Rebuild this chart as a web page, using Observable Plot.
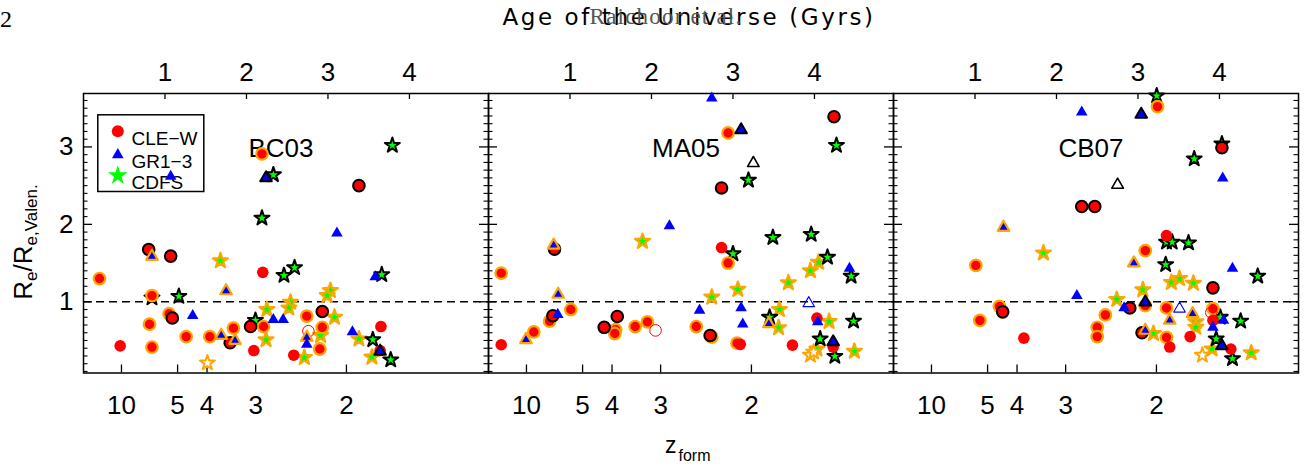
<!DOCTYPE html>
<html><head><meta charset="utf-8">
<script src="https://cdn.jsdelivr.net/npm/d3@7"></script>
<script src="https://cdn.jsdelivr.net/npm/@observablehq/plot@0.6"></script>
<style>
body{margin:0;background:#fff;}
#wrap{position:relative;width:1307px;height:466px;overflow:hidden;background:#fff;}
#wrap svg{position:absolute;left:0;top:0;}
</style></head><body><div id="wrap"></div>
<script>
// ---------- axis / category data ----------
const models = ["BC03", "MA05", "CB07"];
const samples = ["CLE-W", "GR1-3", "CDFS"];
const legendLabels = ["CLE−W", "GR1−3", "CDFS"];
const ageTicks = [1, 2, 3, 4];          // top axis: Age of the Universe (Gyrs)
const zTicks = [10, 5, 4, 3, 2];        // bottom axis: z_form
const yLabelTicks = [1, 2, 3];

// ---------- point data: [age of universe at formation (Gyr), Re/Re,Valen., style] ----------
// style: n = no edge, k = black edge, o = orange edge, xr/xb/xk/xo = open symbols
const bc03CleW = [[2.19,2.91,"o"],[3.38,2.50,"k"],[0.80,1.675,"k"],[1.07,1.59,"k"],[2.20,1.38,"n"],[0.196,1.30,"o"],
  [0.84,1.08,"o"],[2.93,0.875,"k"],[2.74,0.815,"o"],[1.09,0.79,"k"],[1.05,0.845,"o"],[0.81,0.71,"o"],[2.05,0.68,"k"],
  [2.21,0.68,"o"],[1.84,0.66,"o"],[2.76,0.62,"xr"],[2.93,0.67,"o"],[1.26,0.55,"o"],[1.55,0.55,"o"],[1.80,0.47,"k"],
  [0.45,0.43,"n"],[0.84,0.415,"o"],[2.09,0.37,"n"],[2.90,0.39,"o"],[2.58,0.31,"n"],[3.65,0.68,"n"],[3.64,0.37,"n"]];
const bc03Gr13 = [[1.07,2.62,"n"],[2.24,2.60,"k"],[3.11,1.885,"n"],[0.84,1.585,"o"],[3.58,1.32,"n"],[1.75,1.14,"o"],
  [1.34,0.82,"n"],[2.33,0.77,"n"],[2.45,0.77,"n"],[2.74,0.54,"o"],[2.74,0.45,"n"],[3.30,0.61,"n"],[1.69,0.565,"o"],
  [1.86,0.50,"o"],[3.64,0.36,"k"]];
const bc03Cdfs = [[2.33,2.64,"k"],[3.79,3.02,"k"],[2.19,2.08,"k"],[1.68,1.53,"o"],[2.46,1.34,"k"],[2.59,1.44,"k"],
  [3.66,1.35,"k"],[0.84,1.05,"k"],[1.17,1.07,"k"],[3.03,1.145,"o"],[2.99,1.08,"o"],[2.54,0.995,"o"],[2.52,0.92,"o"],
  [2.25,0.90,"o"],[3.08,0.80,"o"],[2.11,0.76,"k"],[2.91,0.565,"o"],[3.38,0.52,"o"],[3.55,0.51,"k"],[2.24,0.51,"o"],
  [2.71,0.28,"o"],[3.54,0.285,"o"],[3.77,0.25,"k"],[1.52,0.21,"xo"]];

const ma05CleW = [[2.94,3.18,"o"],[4.24,3.39,"k"],[2.86,2.47,"k"],[0.81,1.68,"k"],[2.86,1.70,"n"],[2.94,1.50,"o"],
  [0.156,1.37,"o"],[1.01,0.90,"o"],[0.79,0.82,"k"],[0.75,0.75,"o"],[1.58,0.81,"k"],[1.42,0.67,"k"],[1.56,0.64,"o"],
  [1.55,0.59,"o"],[1.80,0.68,"o"],[1.95,0.74,"o"],[2.05,0.63,"xr"],[0.556,0.61,"o"],[0.156,0.445,"n"],[2.55,0.68,"o"],
  [2.72,0.565,"k"],[2.74,0.545,"o"],[3.05,0.465,"o"],[3.09,0.45,"n"],[3.73,0.44,"n"],[4.03,0.79,"n"],[4.23,0.415,"n"]];
const ma05Gr13 = [[2.74,3.63,"n"],[3.10,3.22,"k"],[3.25,2.79,"xk"],[2.22,1.98,"n"],[0.80,1.73,"o"],[4.43,1.43,"n"],
  [0.855,1.095,"o"],[3.93,0.98,"xb"],[2.59,0.89,"n"],[3.10,0.92,"n"],[0.85,0.835,"n"],[0.46,0.51,"o"],[3.12,0.71,"n"],
  [3.44,0.715,"o"],[4.04,0.74,"n"],[4.23,0.48,"k"]];
const ma05Cdfs = [[4.27,3.02,"k"],[3.19,2.57,"k"],[1.89,1.78,"o"],[3.49,1.83,"k"],[3.96,1.87,"k"],[3.00,1.62,"k"],
  [4.16,1.575,"k"],[4.05,1.51,"o"],[3.95,1.40,"o"],[4.45,1.33,"k"],[3.68,1.245,"o"],[3.06,1.16,"o"],[2.74,1.06,"o"],
  [3.57,0.90,"o"],[3.45,0.80,"k"],[3.56,0.665,"o"],[4.18,0.745,"o"],[4.48,0.75,"k"],[4.07,0.52,"k"],[4.03,0.39,"o"],
  [3.95,0.31,"xo"],[3.99,0.35,"xo"],[4.25,0.295,"k"],[4.49,0.36,"o"]];

const cb07CleW = [[3.24,3.52,"o"],[4.03,2.99,"k"],[2.31,2.23,"k"],[2.47,2.23,"k"],[1.01,1.47,"o"],[1.06,0.76,"o"],
  [1.30,0.94,"o"],[1.34,0.87,"k"],[1.60,0.53,"n"],[2.60,0.83,"o"],[2.50,0.67,"o"],[2.50,0.55,"o"],[3.09,1.66,"o"],
  [2.90,0.92,"k"],[3.09,0.95,"o"],[3.05,0.60,"k"],[3.35,1.855,"n"],[3.92,1.18,"k"],[3.35,0.92,"o"],[3.35,0.54,"o"],
  [3.39,0.415,"n"],[3.64,0.55,"n"],[3.92,0.91,"o"],[3.90,0.86,"xr"],[3.92,0.76,"n"],[4.14,0.39,"n"]];
const cb07Gr13 = [[2.31,3.45,"n"],[3.04,3.42,"k"],[2.75,2.51,"xk"],[4.04,2.595,"n"],[1.35,1.96,"o"],[2.25,1.08,"n"],
  [2.95,1.50,"o"],[2.83,0.92,"n"],[3.09,0.995,"k"],[3.09,0.63,"o"],[4.16,1.43,"n"],[3.51,0.91,"xb"],[3.39,0.76,"o"],
  [3.67,0.845,"o"],[4.05,0.76,"n"],[3.92,0.67,"n"],[4.03,0.43,"k"]];
const cb07Cdfs = [[3.23,3.66,"k"],[4.03,3.04,"k"],[3.69,2.845,"k"],[1.84,1.63,"o"],[2.74,1.03,"o"],[3.06,1.155,"o"],
  [3.19,0.59,"o"],[3.35,1.77,"k"],[3.42,1.77,"k"],[3.62,1.76,"k"],[3.34,1.48,"k"],[3.41,1.25,"o"],[3.51,1.30,"o"],
  [3.68,1.24,"o"],[4.47,1.33,"k"],[3.71,0.74,"o"],[3.71,0.67,"o"],[4.01,0.80,"k"],[4.26,0.75,"k"],[3.96,0.52,"k"],
  [3.91,0.39,"o"],[3.79,0.31,"xo"],[4.16,0.265,"k"],[4.39,0.34,"o"]];

// ---------- build table ----------
const points = [];
function add(model, sample, arr) { arr.forEach(([age, ratio, style]) => points.push({model, sample, age, ratio, style})); }
add("BC03","CLE-W",bc03CleW); add("BC03","GR1-3",bc03Gr13); add("BC03","CDFS",bc03Cdfs);
add("MA05","CLE-W",ma05CleW); add("MA05","GR1-3",ma05Gr13); add("MA05","CDFS",ma05Cdfs);
add("CB07","CLE-W",cb07CleW); add("CB07","GR1-3",cb07Gr13); add("CB07","CDFS",cb07Cdfs);

// flat LCDM age of the universe at redshift z (H0=70, Om=0.3) for the z_form axis
function ageGyr(z) { const H0 = 70, Om = 0.3, OL = 0.7, tH = 977.8 / H0;
  return (2 / 3) * tH / Math.sqrt(OL) * Math.asinh(Math.sqrt(OL / Om) * Math.pow(1 + z, -1.5)); }
const zTickAges = zTicks.map(ageGyr);
const zLabel = new Map(zTickAges.map((a, i) => [a, String(zTicks[i])]));
const yMinor = d3.range(1, 37).map(i => i / 10).filter(v => Math.abs(v - Math.round(v)) > 1e-9);

const sampleDefs = {
  "CLE-W": {symbol: "circle", color: "#ff0000", r: 5.8},
  "GR1-3": {symbol: "triangle", color: "#0000ff", r: 4.3},
  "CDFS":  {symbol: "star", color: "#00ff00", r: 4.7}
};
const styleDefs = {
  o:  {stroke: "#ffa500", sw: 2.2},
  k:  {stroke: "black", sw: 2},
  n:  {stroke: "none", sw: 0},
  xr: {stroke: "#ff0000", sw: 1, fill: "none"},
  xb: {stroke: "#0000ff", sw: 1.1, fill: "none"},
  xk: {stroke: "black", sw: 1.6, fill: "white"},
  xo: {stroke: "#ffa500", sw: 2, fill: "white"}
};

const W = 1307, H = 466, PW = 405, TOP = 93, BOT = 372.5, PH = BOT - TOP;
const wrap = document.getElementById("wrap");

models.forEach((model, i) => {
  const x0 = 83 + PW * i;
  const marks = [
    Plot.frame({stroke: "black", strokeWidth: 1.5}),
    Plot.ruleY([1], {stroke: "black", strokeWidth: 1.3, strokeDasharray: "8,5"}),
    Plot.tickX(ageTicks, {x: d => d, insetBottom: PH - 6, strokeWidth: 1.3}),
    Plot.tickX(zTickAges, {x: d => d, insetTop: PH - 8, strokeWidth: 1.3}),
    Plot.tickY(yLabelTicks, {y: d => d, insetRight: PW - 9, strokeWidth: 1.3}),
    Plot.tickY(yMinor, {y: d => d, insetRight: PW - 4.5, strokeWidth: 1.1}),
    Plot.tickY(yLabelTicks, {y: d => d, insetLeft: PW - 9, strokeWidth: 1.3}),
    Plot.tickY(yMinor, {y: d => d, insetLeft: PW - 4.5, strokeWidth: 1.1}),
    Plot.axisX(ageTicks, {anchor: "top", tickSize: 0, tickPadding: 13, fontSize: 26, label: null, tickFormat: d => String(d)}),
    Plot.axisX(zTickAges, {anchor: "bottom", tickSize: 0, tickPadding: 23, fontSize: 26, label: null, tickFormat: d => zLabel.get(d)}),
    Plot.text([model], {text: d => d, frameAnchor: "top", dx: -5, dy: 45, fontSize: 26})
  ];
  if (i === 0) {
    marks.push(Plot.axisY(yLabelTicks, {anchor: "left", tickSize: 0, tickPadding: 10, fontSize: 26, label: null, tickFormat: d => String(d)}));
    // legend
    marks.push(Plot.frame({stroke: "black", strokeWidth: 1.5, insetLeft: 14.3, insetTop: 21.3, insetRight: PW - 120.3, insetBottom: PH - 98}));
    samples.forEach((s, j) => {
      const def = sampleDefs[s];
      const dy = [37.7, 61.3, 82][j];
      marks.push(Plot.dot([s], {frameAnchor: "top-left", dx: 34.3, dy, symbol: def.symbol, fill: def.color,
        r: [6, 4.3, 6.2][j], stroke: "none"}));
      marks.push(Plot.text([legendLabels[j]], {text: d => d, frameAnchor: "top-left", dx: 48, dy, fontSize: 19, textAnchor: "start"}));
    });
  }
  ["CDFS", "CLE-W", "GR1-3"].forEach(s => {
    const def = sampleDefs[s];
    Object.keys(styleDefs).forEach(st => {
      const sd = styleDefs[st];
      const rows = points.filter(p => p.model === model && p.sample === s && p.style === st);
      if (!rows.length) return;
      marks.push(Plot.dot(rows, {x: "age", y: "ratio", symbol: def.symbol, r: def.r,
        fill: sd.fill || def.color, stroke: sd.stroke, strokeWidth: sd.sw, strokeLinejoin: "round"}));
    });
  });
  const svg = Plot.plot({
    width: W, height: H,
    marginLeft: x0, marginRight: W - x0 - PW, marginTop: TOP, marginBottom: H - BOT,
    x: {domain: [0, 4.97]},
    y: {domain: [0.08, 3.69], axis: i === 0 ? undefined : null},
    style: {background: "transparent", overflow: "visible", fontFamily: "'Liberation Sans', Arial, sans-serif", color: "black"},
    marks
  });
  wrap.appendChild(svg);
});

// ---------- titles / axis labels ----------
const ov = d3.select(wrap).append("svg").attr("width", W).attr("height", H).style("pointer-events", "none");
ov.append("text").attr("x", 0).attr("y", 27).attr("font-family", "'Liberation Serif', serif").attr("font-size", 24).text("2");
ov.append("text").attr("x", 689).attr("y", 25).attr("text-anchor", "middle")
  .attr("font-family", "'DejaVu Sans', sans-serif").attr("font-size", 23).attr("letter-spacing", 2.6)
  .text("Age of the Universe (Gyrs)");
ov.append("text").attr("x", 666).attr("y", 24).attr("text-anchor", "middle")
  .attr("font-family", "'Liberation Serif', serif").attr("font-size", 23).attr("letter-spacing", 1.2).attr("fill", "#555")
  .text("Raichoor et al.");
const yl = ov.append("text").attr("transform", "translate(32,242) rotate(-90)").attr("text-anchor", "middle")
  .attr("font-family", "'Liberation Sans', sans-serif").attr("font-size", 26);
yl.append("tspan").text("R");
yl.append("tspan").attr("font-size", 17).attr("dy", 5).text("e");
yl.append("tspan").attr("dy", -5).text("/R");
yl.append("tspan").attr("font-size", 17).attr("dy", 5).text("e,Valen.");
const zl = ov.append("text").attr("x", 665).attr("y", 453).attr("font-family", "'Liberation Sans', sans-serif").attr("font-size", 23);
zl.append("tspan").text("z");
zl.append("tspan").attr("font-size", 16).attr("dy", 8).attr("dx", 2).text("form");
</script></body></html>
